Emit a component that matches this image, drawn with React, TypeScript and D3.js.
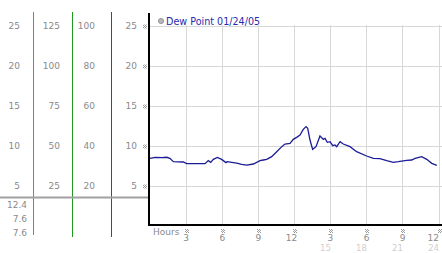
import React from "react";
import * as d3 from "d3";

const hours = [0, 0.45, 0.97, 1.39, 1.66, 1.94, 2.77, 3.05, 4.58, 4.85, 5.05, 5.27, 5.6, 5.96, 6.32, 6.43, 6.8, 7.21, 7.63, 8.04, 8.6, 9.15, 9.43, 9.71, 10.12, 10.54, 10.96, 11.23, 11.65, 11.92, 12.2, 12.48, 12.75, 12.98, 13.12, 13.31, 13.53, 13.81, 14.14, 14.42, 14.56, 14.75, 14.98, 15.2, 15.39, 15.53, 15.81, 16.08, 16.64, 17.19, 18.02, 18.58, 19.13, 19.69, 20.24, 20.66, 21.35, 21.77, 22.05, 22.6, 23.02, 23.44, 23.86];
const dewPoint = [8.46, 8.59, 8.54, 8.59, 8.46, 8.04, 8.0, 7.79, 7.79, 8.17, 7.96, 8.33, 8.58, 8.33, 7.92, 8.04, 7.96, 7.87, 7.71, 7.62, 7.75, 8.17, 8.25, 8.33, 8.67, 9.29, 9.92, 10.25, 10.33, 10.83, 11.08, 11.38, 12.08, 12.42, 12.21, 10.75, 9.58, 9.92, 11.25, 10.83, 10.96, 10.46, 10.54, 10.04, 10.13, 9.92, 10.54, 10.25, 9.92, 9.29, 8.75, 8.46, 8.42, 8.17, 7.96, 8.04, 8.21, 8.25, 8.46, 8.67, 8.33, 7.83, 7.58];

const yTicks = [25, 20, 15, 10, 5];
const col2Labels = ["125", "100", "75", "50", "25"];
const col3Labels = ["100", "80", "60", "40", "20"];
const xTicks = [3, 6, 9, 12, 15, 18, 21, 24];
const xTickLabels = ["3", "6", "9", "12", "3", "6", "9", "12"];
const xTickLabels2 = ["", "", "", "", "15", "18", "21", "24"];
const statLabels = ["12.4", "7.6", "7.6"];
const legendLabel = "Dew Point 01/24/05";

const FONT = "'DejaVu Sans', Verdana, sans-serif";

export default function App() {
  const x = d3.scaleLinear().domain([0, 24]).range([150, 438.5]);
  const y = d3.scaleLinear().domain([0, 25]).range([226, 26]);
  const line = d3
    .line<number>()
    .x((_, i) => x(hours[i]))
    .y((d) => y(d));

  const txt = { fontFamily: FONT, fontSize: 9, fill: "#8a8a8a" } as const;

  return (
    <svg
      width={442}
      height={253}
      style={{ position: "absolute", left: 0, top: 0, background: "#fff" }}
    >
      <defs>
        <pattern id="chk" width={2} height={2} patternUnits="userSpaceOnUse">
          <rect x={0} y={0} width={1} height={1} fill="#9a9a9a" />
          <rect x={1} y={1} width={1} height={1} fill="#9a9a9a" />
        </pattern>
      </defs>
      {/* grid */}
      {yTicks.map((t) => (
        <line key={"gy" + t} x1={150} x2={442} y1={y(t) + 0.5} y2={y(t) + 0.5} stroke="#d8d8d8" strokeWidth={1} />
      ))}
      {xTicks.map((t) => (
        <line key={"gx" + t} x1={Math.round(x(t)) + 0.5} x2={Math.round(x(t)) + 0.5} y1={25} y2={225} stroke="#d8d8d8" strokeWidth={1} />
      ))}
      {/* left panel vertical colored lines */}
      <g shapeRendering="crispEdges">
        <line x1={33.5} x2={33.5} y1={12} y2={235} stroke="#1f9fd6" strokeWidth={1} />
        <line x1={72.5} x2={72.5} y1={12} y2={237} stroke="#1f9a1f" strokeWidth={1} />
        <line x1={111.5} x2={111.5} y1={12} y2={237} stroke="#b02020" strokeWidth={1} />
      </g>
      {/* gray separator */}
      <line x1={0} x2={149} y1={197.5} y2={197.5} stroke="#a0a0a0" strokeWidth={2} />
      {/* left labels */}
      {yTicks.map((t, i) => (
        <g key={"yl" + t}>
          <text x={20} y={y(t)} dy="0.35em" textAnchor="end" {...txt}>{t}</text>
          <text x={60} y={y(t)} dy="0.35em" textAnchor="end" {...txt}>{col2Labels[i]}</text>
          <text x={95} y={y(t)} dy="0.35em" textAnchor="end" {...txt}>{col3Labels[i]}</text>
          <text x={137} y={y(t)} dy="0.35em" textAnchor="end" {...txt}>{t}</text>
          <rect x={143} y={y(t) - 1.5} width={4} height={4} fill="url(#chk)" />
        </g>
      ))}
      {statLabels.map((s, i) => (
        <text key={"st" + i} x={27} y={205 + i * 14} dy="0.35em" textAnchor="end" {...txt}>{s}</text>
      ))}
      {/* axes */}
      <line x1={149} x2={149} y1={13} y2={226} stroke="#000" strokeWidth={2} />
      <line x1={148} x2={442} y1={225} y2={225} stroke="#000" strokeWidth={2} />
      {/* x ticks */}
      <text x={153} y={235} {...txt}>Hours</text>
      {xTicks.map((t, i) => {
        const gx = x(t);
        return (
          <g key={"xt" + t}>
            <rect x={Math.round(gx) - 1} y={229} width={4} height={4} fill="url(#chk)" />
            <text x={Math.min(gx + 3, 439)} y={241} textAnchor="end" {...txt}>{xTickLabels[i]}</text>
            {xTickLabels2[i] && (
              <text x={Math.min(gx + 0.5, 439)} y={251} textAnchor="end" {...txt} fontSize={8.5} fill="#cfcfcf">{xTickLabels2[i]}</text>
            )}
          </g>
        );
      })}
      {/* data line */}
      <path d={line(dewPoint) || ""} fill="none" stroke="#1c1c96" strokeWidth={1.3} />
      {/* legend */}
      <circle cx={161} cy={21} r={2.6} fill="#b8b8b8" stroke="#8a8a8a" strokeWidth={0.8} />
      <text x={166} y={24.5} fontFamily={FONT} fontSize={9.6} fill="#2a2ab0">{legendLabel}</text>
    </svg>
  );
}
